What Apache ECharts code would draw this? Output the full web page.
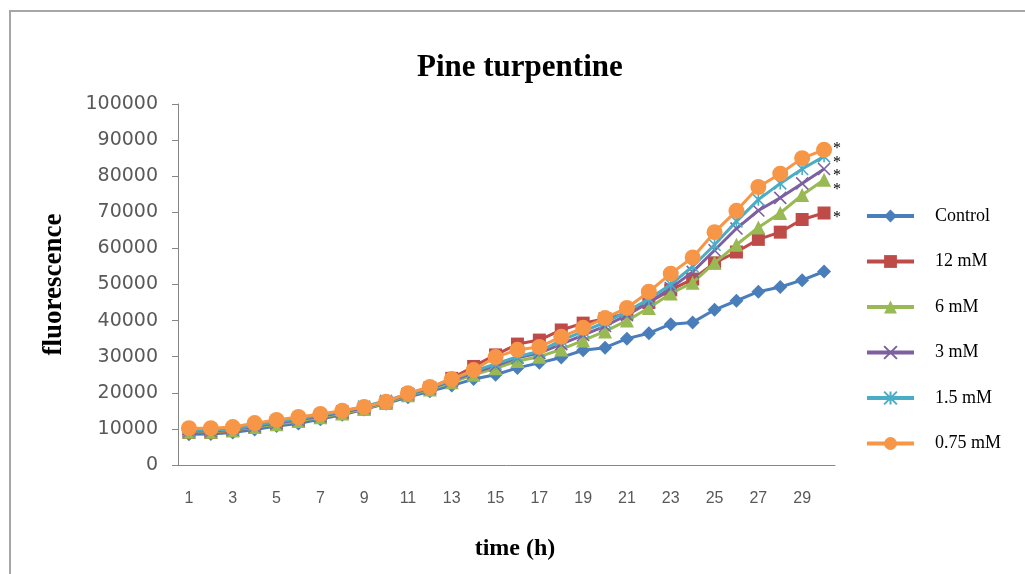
<!DOCTYPE html>
<html>
<head>
<meta charset="utf-8">
<script src="https://cdn.jsdelivr.net/npm/echarts@6/dist/echarts.min.js"></script>
<style>html,body{margin:0;padding:0;background:#fff;}#c{width:1025px;height:574px;}</style>
</head>
<body>
<div id="c"></div>
<script>
const categories = ['1','2','3','4','5','6','7','8','9','10','11','12','13','14','15','16','17','18','19','20','21','22','23','24','25','26','27','28','29','30'];
const seriesNames = ['Control','12 mM','6 mM','3 mM','1.5 mM','0.75 mM'];
const control = [8500,8600,9000,9800,10800,11500,12700,13900,15400,17000,18800,20400,22000,23800,25000,26900,28300,29800,31800,32500,35000,36500,39000,39500,43000,45500,48000,49300,51200,53600];
const mM12 = [9000,9000,9500,10500,11500,12300,13300,14300,15500,17200,19500,21300,24000,27300,30500,33500,34600,37400,39300,40500,42000,45000,48500,51500,56000,59000,62500,64500,68000,69800];
const mM6 = [9200,9200,9600,10500,11300,12200,13200,14300,15600,17200,19300,20900,22900,25000,26800,28800,30000,32000,34500,37000,40000,43500,47500,50500,56000,61000,65800,69800,74800,79000];
const mM3 = [9400,9400,9800,10700,11600,12500,13500,14600,15900,17500,19600,21200,23300,25600,27500,29700,31000,33500,36000,38500,41500,45000,49000,53500,59500,65500,70500,74000,78000,82000];
const mM1_5 = [9600,9700,10000,11000,11900,12800,13800,14900,16200,17800,19700,21400,23500,26000,28000,30000,31500,34500,37000,39500,42500,46000,50000,55000,61000,67500,73500,78000,82000,85500];
const mM0_75 = [10200,10200,10500,11600,12500,13300,14100,15000,16100,17500,19900,21600,23800,26300,29900,31900,32700,35500,38000,40700,43500,48000,53000,57500,64500,70400,77000,80700,85000,87300];
const significance = ['', '*', '*', '*', '*', '*'];
const yTicks = {min: 0, max: 100000, interval: 10000};

const colors = ['#4A7EBB','#BE4B48','#98B954','#7D60A0','#4BACC6','#F79646'];
const symbols = ['diamond','rect','triangle','path://M0,0L10,10M10,0L0,10','path://M5,0L5,10M0,0L10,10M10,0L0,10','circle'];
const sizes = [14,13,14,12,12,16];
const labelOffsets = [[0,0],[9,5],[9,10],[9,7],[9,6],[9,-1]];
const dataList = [control, mM12, mM6, mM3, mM1_5, mM0_75];

const series = seriesNames.map((name, i) => {
  const isStroke = i === 3 || i === 4;
  return {
    name: name,
    type: 'line',
    data: dataList[i],
    symbol: symbols[i],
    symbolSize: sizes[i],
    showAllSymbol: true,
    lineStyle: {width: 3, color: colors[i]},
    itemStyle: isStroke ? {color: colors[i], borderColor: colors[i], borderWidth: 1.6} : {color: colors[i], borderWidth: 0},
    z: 2 + i,
    endLabel: significance[i] ? {
      show: true,
      formatter: significance[i],
      offset: labelOffsets[i],
      color: '#000',
      fontFamily: 'Liberation Serif',
      fontSize: 16,
      distance: 0
    } : {show: false}
  };
});

const chart = echarts.init(document.getElementById('c'));
chart.setOption({
  animation: false,
  backgroundColor: '#fff',
  title: {
    text: 'Pine turpentine',
    left: 417,
    top: 52,
    padding: 0,
    textStyle: {fontFamily: 'Liberation Serif', fontWeight: 'bold', fontSize: 31, color: '#000'}
  },
  graphic: [{
    type: 'rect',
    shape: {x: 10, y: 11, width: 1040, height: 570},
    style: {fill: 'none', stroke: '#a6a6a6', lineWidth: 2},
    silent: true
  }],
  legend: {
    orient: 'vertical',
    left: 860,
    top: 202,
    itemWidth: 47,
    itemHeight: 16,
    itemGap: 27.5,
    lineStyle: {width: 4},
    textStyle: {fontFamily: 'Liberation Serif', fontSize: 18, color: '#000', padding: [0,0,0,16]},
    data: seriesNames
  },
  grid: {left: 178, right: 190, top: 104, bottom: 109, containLabel: false},
  xAxis: {
    type: 'category',
    data: categories,
    boundaryGap: true,
    name: 'time (h)',
    nameLocation: 'middle',
    nameGap: 72,
    nameTextStyle: {fontFamily: 'Liberation Serif', fontWeight: 'bold', fontSize: 24, color: '#000', padding: [0,0,0,17]},
    axisLine: {lineStyle: {color: '#868686', width: 1}},
    axisTick: {show: false},
    axisLabel: {interval: 1, margin: 26, fontFamily: 'Liberation Sans', fontSize: 16, color: '#595959'},
    splitLine: {show: false}
  },
  yAxis: {
    type: 'value',
    min: yTicks.min,
    max: yTicks.max,
    interval: yTicks.interval,
    name: 'fluorescence',
    nameLocation: 'middle',
    nameGap: 110,
    nameTextStyle: {fontFamily: 'Liberation Serif', fontWeight: 'bold', fontSize: 27, color: '#000'},
    axisLine: {show: true, lineStyle: {color: '#868686', width: 1}},
    axisTick: {show: true, length: 6, lineStyle: {color: '#868686'}},
    axisLabel: {margin: 20, fontFamily: 'DejaVu Sans', fontSize: 19, color: '#595959', formatter: v => String(v)},
    splitLine: {show: false}
  },
  series: series
});
</script>
</body>
</html>
